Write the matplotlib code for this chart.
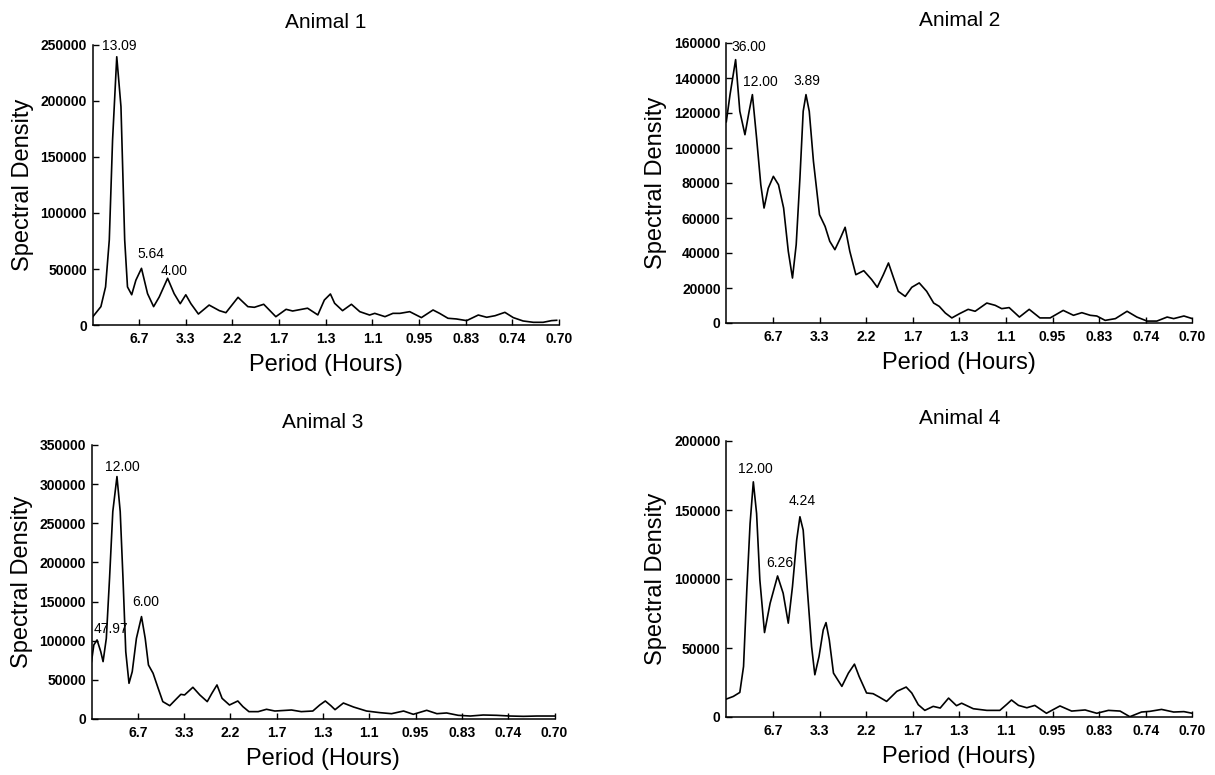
import matplotlib
matplotlib.use("Agg")
import matplotlib.pyplot as plt

plt.rcParams['font.family'] = ['Liberation Sans', 'DejaVu Sans']

# x: frequency (cycles per hour); tick labels give the period in hours
tick_freqs = [0.15, 0.30, 0.45, 0.60, 0.75, 0.90, 1.05, 1.20, 1.35, 1.50]
tick_labels = ["6.7", "3.3", "2.2", "1.7", "1.3", "1.1", "0.95", "0.83", "0.74", "0.70"]

titles = ["Animal 1", "Animal 2", "Animal 3", "Animal 4"]
ymax = [250000, 160000, 350000, 200000]
ystep = [50000, 20000, 50000, 50000]

freq1 = [0.000, 0.027, 0.042, 0.054, 0.0645, 0.078, 0.0915, 0.1035, 0.1125, 0.126,
         0.1395, 0.1575, 0.177, 0.1965, 0.2145, 0.2415, 0.2625, 0.282, 0.300, 0.3165,
         0.3405, 0.375, 0.408, 0.429, 0.468, 0.4995, 0.5205, 0.5505, 0.5685, 0.5895,
         0.6225, 0.6435, 0.6915, 0.7245, 0.7455, 0.765, 0.7785, 0.804, 0.8325, 0.8595,
         0.891, 0.9075, 0.9405, 0.966, 0.9885, 1.020, 1.0575, 1.095, 1.116, 1.143,
         1.170, 1.203, 1.2405, 1.2675, 1.2945, 1.326, 1.353, 1.3845, 1.4175, 1.449,
         1.476, 1.4925]
dens1 = [7000, 16400, 34000, 76000, 165000, 239500, 195000, 76000, 34000, 27000,
         40000, 50600, 28000, 16400, 25000, 41700, 28000, 19000, 27000, 19000,
         9800, 17800, 12800, 11000, 24700, 16400, 15800, 18500, 13400, 7400,
         14000, 12500, 15000, 9000, 22300, 27700, 19400, 12800, 18500, 11900,
         8900, 10400, 7450, 10400, 10400, 11900, 6600, 13400, 10400, 6000,
         5400, 3900, 8900, 6900, 8300, 11300, 6600, 3600, 2400, 2400,
         3900, 4200]

freq2 = [0.000, 0.012, 0.030, 0.0435, 0.060, 0.0735, 0.084, 0.0975, 0.111, 0.1215,
         0.135, 0.1515, 0.168, 0.1845, 0.1995, 0.213, 0.225, 0.237, 0.2475, 0.2565,
         0.267, 0.2805, 0.300, 0.318, 0.333, 0.3495, 0.3675, 0.3825, 0.3975, 0.417,
         0.4425, 0.468, 0.486, 0.5055, 0.522, 0.5385, 0.5535, 0.576, 0.597, 0.621,
         0.645, 0.6675, 0.6855, 0.705, 0.726, 0.7515, 0.7785, 0.801, 0.8385, 0.8655,
         0.8865, 0.9105, 0.9435, 0.975, 1.0095, 1.0425, 1.0845, 1.1175, 1.1445, 1.1715,
         1.1925, 1.2195, 1.2525, 1.290, 1.3215, 1.3545, 1.386, 1.419, 1.440, 1.473,
         1.500]
dens2 = [115000, 130500, 150500, 121000, 107600, 121000, 130500, 105700, 79000, 65700,
         77000, 83800, 79000, 65700, 41000, 25700, 44800, 82900, 121000, 130500,
         121000, 92400, 61900, 55200, 46700, 41900, 48600, 54700, 41000, 27600,
         29900, 24800, 20400, 27600, 34300, 25700, 18100, 15200, 20400, 22900,
         18100, 11400, 9500, 5700, 2900, 5400, 7800, 6700, 11400, 10100,
         8200, 8800, 3400, 7800, 2900, 2900, 7200, 4400, 5900, 4400,
         4000, 1500, 2500, 6700, 3400, 1100, 1100, 3400, 2500, 4000,
         2500]

freq3 = [0.000, 0.0075, 0.018, 0.030, 0.0375, 0.048, 0.0585, 0.069, 0.0825, 0.093,
         0.102, 0.111, 0.1215, 0.132, 0.1455, 0.162, 0.174, 0.1845, 0.1995, 0.216,
         0.231, 0.2535, 0.2715, 0.2895, 0.3015, 0.3285, 0.351, 0.375, 0.390, 0.4065,
         0.423, 0.447, 0.474, 0.4905, 0.510, 0.540, 0.567, 0.594, 0.648, 0.6795,
         0.717, 0.7395, 0.7575, 0.7755, 0.789, 0.816, 0.849, 0.891, 0.9345, 0.972,
         1.011, 1.0425, 1.086, 1.119, 1.1505, 1.188, 1.227, 1.269, 1.3125, 1.356,
         1.3995, 1.443, 1.491, 1.500]
dens3 = [73300, 94600, 101000, 86000, 73300, 103000, 180000, 265000, 309700, 265000,
         180000, 86000, 45600, 60500, 103000, 130800, 103000, 69000, 58400, 39200,
         22200, 17000, 24300, 31500, 30700, 40500, 30700, 22200, 32800, 43500,
         26400, 17900, 23000, 15800, 9400, 9400, 12400, 10200, 11500, 9400,
         10200, 17900, 23000, 17000, 11900, 20400, 15300, 10200, 8100, 6800,
         10200, 6000, 11100, 6800, 7700, 4700, 3800, 5100, 4700, 3800,
         3400, 3800, 3800, 3800]

freq4 = [0.000, 0.0225, 0.0435, 0.0555, 0.066, 0.0765, 0.087, 0.0975, 0.108, 0.123,
         0.141, 0.165, 0.183, 0.1995, 0.213, 0.2265, 0.237, 0.2475, 0.261, 0.2745,
         0.285, 0.2985, 0.312, 0.321, 0.3315, 0.345, 0.372, 0.393, 0.4125, 0.4275,
         0.4515, 0.4725, 0.492, 0.516, 0.549, 0.579, 0.597, 0.618, 0.639, 0.666,
         0.6885, 0.7155, 0.741, 0.7575, 0.795, 0.8385, 0.8805, 0.903, 0.918, 0.9405,
         0.9675, 0.993, 1.0305, 1.074, 1.1115, 1.155, 1.1925, 1.230, 1.2675, 1.299,
         1.3365, 1.3635, 1.401, 1.440, 1.473, 1.500]
dens4 = [13000, 14900, 17800, 36600, 92000, 140000, 170400, 147500, 99300, 61200,
         82400, 102200, 89700, 68000, 94500, 128200, 145100, 135400, 92000, 51100,
         30600, 43900, 63100, 68400, 55900, 31800, 22200, 31800, 38300, 29400,
         17400, 16900, 14500, 11300, 18600, 21700, 17400, 8900, 4800, 7700,
         6500, 13700, 8200, 10000, 6000, 4800, 4800, 9200, 12300, 8400,
         6700, 8400, 2700, 8000, 4300, 5100, 2700, 4800, 4300, 200,
         3600, 4100, 5500, 3600, 3900, 2700]

freqs = [freq1, freq2, freq3, freq4]
dens = [dens1, dens2, dens3, dens4]

# peak annotations: (label, x in cycles/hour, y)
ann1 = [("13.09", 0.087, 249000), ("5.64", 0.189, 63400), ("4.00", 0.264, 48500)]
ann2 = [("36.00", 0.0735, 157700), ("12.00", 0.111, 138000), ("3.89", 0.2595, 138500)]
ann3 = [("12.00", 0.1005, 322500), ("6.00", 0.1755, 149000), ("47.97", 0.0615, 114600)]
ann4 = [("12.00", 0.0945, 180000), ("6.26", 0.171, 111800), ("4.24", 0.2445, 156600)]
anns = [ann1, ann2, ann3, ann4]

W, H = 1215, 775
fig = plt.figure(figsize=(W / 100, H / 100), dpi=100)

# axes boxes in pixels: left, right, top, bottom
boxes = [(92.5, 559, 45, 325), (726.3, 1192.3, 43, 323),
         (91.5, 554.5, 445, 719), (726.3, 1192.3, 441, 717)]

for i in range(4):
    l, r, t, b = boxes[i]
    ax = fig.add_axes([l / W, 1 - b / H, (r - l) / W, (b - t) / H])
    ax.plot(freqs[i], dens[i], color="black", lw=1.2, solid_joinstyle="round")
    ax.set_xlim(0, 1.5)
    ax.set_ylim(0, ymax[i])
    ax.set_xticks(tick_freqs)
    ax.set_xticklabels(tick_labels, fontsize=10, fontweight="bold")
    yt = list(range(0, ymax[i] + 1, ystep[i]))
    ax.set_yticks(yt)
    ax.set_yticklabels([str(v) for v in yt], fontsize=10, fontweight="bold")
    ax.tick_params(direction="in", length=4, width=1, pad=5)
    ax.tick_params(axis="y", pad=4)
    for s in ("top", "right"):
        ax.spines[s].set_visible(False)
    for s in ("left", "bottom"):
        ax.spines[s].set_linewidth(1.1)
    ax.set_title(titles[i], fontsize=15, pad=12)
    ax.set_xlabel("Period (Hours)", fontsize=17, labelpad=6)
    ax.set_ylabel("Spectral Density", fontsize=17, labelpad=5)
    for txt, x, y in anns[i]:
        ax.text(x, y, txt, ha="center", va="center", fontsize=10, clip_on=False)

fig.savefig("out.png", dpi=100)
